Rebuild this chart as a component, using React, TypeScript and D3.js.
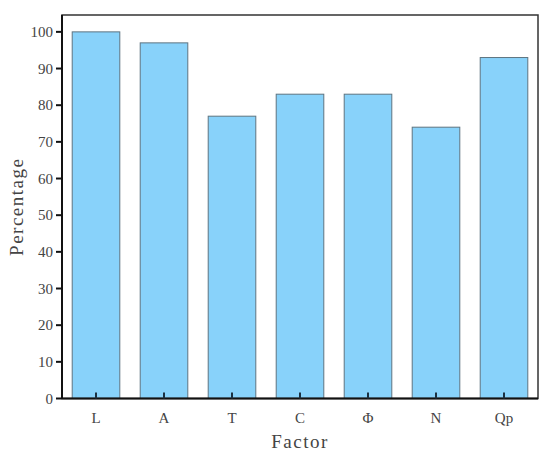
import React from "react";
import * as d3 from "d3";

const categories = ["L", "A", "T", "C", "Φ", "N", "Qp"];
const values = [100, 97, 77, 83, 83, 74, 93];
const yTicks = [0, 10, 20, 30, 40, 50, 60, 70, 80, 90, 100];

export default function App() {
  const W = 550, H = 458;
  const left = 62, right = 538, top = 15, bottom = 398.5;
  const x = d3.scaleBand<string>().domain(categories).range([left, right]).paddingInner(0.3).paddingOuter(0.15);
  const y = d3.scaleLinear().domain([0, 104.6]).range([bottom, top]);
  const font = "'Liberation Serif', 'DejaVu Serif', serif";
  return (
    <svg width={W} height={H} style={{ position: "absolute", left: 0, top: 0 }}>
      <rect x={0} y={0} width={W} height={H} fill="#fff" />
      {categories.map((c, i) => (
        <rect key={c} x={x(c)!} y={y(values[i])} width={x.bandwidth()} height={bottom - y(values[i])}
          fill="#88D2FA" stroke="#5E7480" strokeWidth={1} />
      ))}
      <rect x={left} y={top} width={right - left} height={bottom - top} fill="none" stroke="#333" strokeWidth={1.5} />
      <line x1={left} x2={left} y1={top} y2={bottom} stroke="#111" strokeWidth={2} />
      <line x1={left} x2={right} y1={bottom} y2={bottom} stroke="#111" strokeWidth={2} />
      {yTicks.map(t => (
        <g key={t}>
          <line x1={left - 6} x2={left} y1={y(t)} y2={y(t)} stroke="#111" strokeWidth={2} />
          <text x={left - 9} y={y(t)} dy="0.35em" textAnchor="end" fontFamily={font} fontSize={15} fill="#444">{t}</text>
        </g>
      ))}
      {categories.map(c => {
        const cx = x(c)! + x.bandwidth() / 2;
        return (
          <g key={c}>
            <line x1={cx} x2={cx} y1={bottom} y2={bottom - 6} stroke="#1a3040" strokeWidth={2} />
            <text x={cx} y={bottom + 24} textAnchor="middle" fontFamily={font} fontSize={15} fill="#444">{c}</text>
          </g>
        );
      })}
      <text x={(left + right) / 2} y={448} textAnchor="middle" fontFamily={font} fontSize={19} fill="#444" letterSpacing={1.5}>Factor</text>
      <text transform={`translate(23,${(top + bottom) / 2}) rotate(-90)`} textAnchor="middle" fontFamily={font} fontSize={19} fill="#444" letterSpacing={1.5}>Percentage</text>
    </svg>
  );
}
